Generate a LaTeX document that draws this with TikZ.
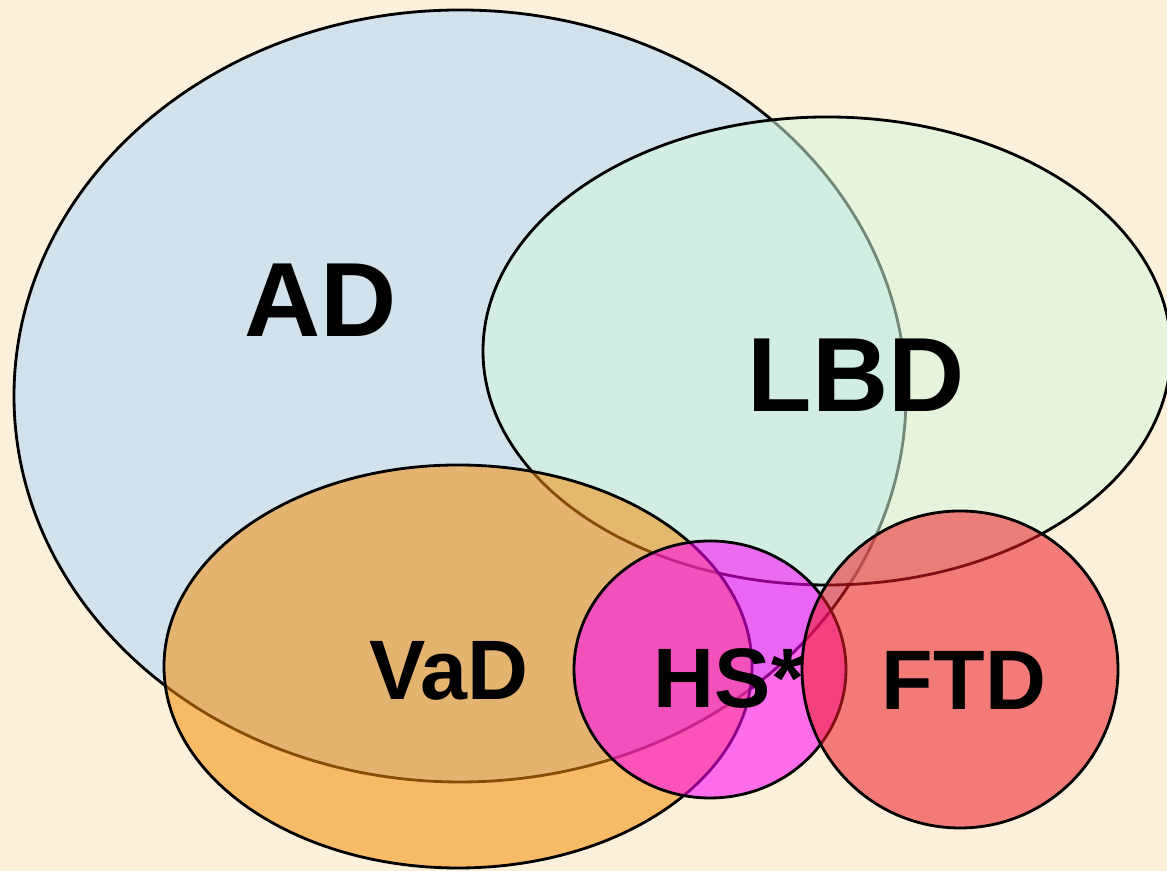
\documentclass[tikz,border=0pt]{standalone}
\usepackage{fontspec}
\setmainfont{Liberation Sans}
\definecolor{paper}{RGB}{251,240,218}
\definecolor{adcol}{RGB}{178,216,254}
\definecolor{lbdcol}{RGB}{211,249,218}
\definecolor{vadcol}{RGB}{244,142,10}
\definecolor{hscol}{RGB}{255,0,250}
\definecolor{ftdcol}{RGB}{238,28,38}
\tikzset{
  setfill/.style={draw=black, line width=0.8pt, fill=#1, fill opacity=0.55},
  biglabel/.style={font=\bfseries\fontsize{30}{36}\selectfont, anchor=base, inner sep=0pt},
  smalllabel/.style={font=\bfseries\fontsize{24}{29}\selectfont, anchor=base, inner sep=0pt}
}
\begin{document}
\begin{tikzpicture}[x=0.01cm, y=0.01cm]
	\useasboundingbox (0, 0) rectangle (1167, 871);
	\fill[paper] (0, 0) rectangle (1167, 871);
	\draw[setfill=adcol] (460, 475) ellipse (446 and 386);
	\draw[setfill=lbdcol] (827, 520) ellipse (344 and 234);
	\draw[setfill=vadcol] (458, 204.5) ellipse (294 and 201.5);
	\draw[setfill=hscol] (710, 201.5) ellipse (136 and 128.5);
	\draw[setfill=ftdcol] (960, 201.5) ellipse (158 and 158.5);
	\node[biglabel] (ad) at (321, 534) {AD};
	\node[biglabel] (lbd) at (856, 459) {LBD};
	\node[smalllabel] (vad) at (449, 171) {VaD};
	\node[smalllabel] (hs) at (729, 163) {HS*};
	\node[smalllabel] (ftd) at (964, 161) {FTD};
\end{tikzpicture}
\end{document}
